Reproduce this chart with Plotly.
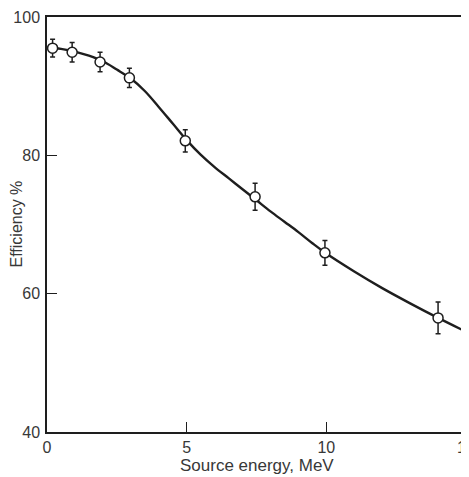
import plotly.graph_objects as go

# Measured points
energy = [0.2, 0.9, 1.9, 2.95, 4.95, 7.45, 9.95, 14.0]
efficiency = [95.5, 94.9, 93.5, 91.2, 82.1, 74.0, 65.9, 56.5]
err = [1.3, 1.4, 1.4, 1.4, 1.6, 1.95, 1.8, 2.3]

# Fitted curve
curve_x = [0, 0.5, 1, 1.5, 2, 2.5, 3, 3.5, 4, 4.5, 5, 5.5, 6, 6.5, 7, 7.5, 8,
           8.5, 9, 9.5, 10, 11, 12, 13, 14, 15]
curve_y = [95.6, 95.4, 95.0, 94.4, 93.6, 92.4, 91.1, 89.3, 87.0, 84.6, 82.2,
           80.1, 78.3, 76.7, 75.1, 73.5, 71.9, 70.4, 68.9, 67.3, 65.8, 63.2,
           60.8, 58.6, 56.5, 54.5]

x_ticks = [0, 5, 10, 15]
y_ticks = [40, 60, 80, 100]

ink = "#1e1e1e"
text_col = "#383838"
font = dict(family="Liberation Sans, Arial, sans-serif", size=16, color=text_col)

fig = go.Figure()
fig.add_trace(go.Scatter(x=curve_x, y=curve_y, mode="lines",
                         line=dict(color=ink, width=2.4, shape="spline", smoothing=1.0),
                         hoverinfo="skip", showlegend=False))
fig.add_trace(go.Scatter(x=energy, y=efficiency, mode="markers",
                         marker=dict(symbol="circle", size=10, color="white",
                                     line=dict(color=ink, width=1.5)),
                         error_y=dict(type="data", array=err, visible=True,
                                      color=ink, thickness=1.5, width=2.5),
                         showlegend=False))

fig.update_layout(
    width=461, height=469,
    margin=dict(l=39, r=3, t=9, b=45),
    paper_bgcolor="white", plot_bgcolor="white",
    font=font,
    annotations=[
        dict(text="Source energy, MeV", xref="paper", yref="paper", x=0.5, y=0,
             xanchor="center", yanchor="middle", yshift=-33, showarrow=False,
             font=dict(size=17, color=text_col)),
        dict(text="Efficiency %", xref="paper", yref="paper", x=0, y=0.5,
             xanchor="center", yanchor="middle", xshift=-31, textangle=-90,
             showarrow=False, font=dict(size=16, color=text_col)),
    ],
)
fig.update_xaxes(range=[0, 15], tickvals=x_ticks, ticktext=[str(v) for v in x_ticks],
                 showgrid=False, zeroline=False, showline=True, linecolor=ink,
                 linewidth=1.5, mirror=True, ticks="inside", ticklen=10,
                 tickcolor=ink, tickwidth=1.2, automargin=False,
                 ticklabelstandoff=0, ticklabeloverflow="allow")
fig.update_yaxes(range=[40, 100], tickvals=y_ticks, ticktext=[str(v) for v in y_ticks],
                 showgrid=False, zeroline=False, showline=True, linecolor=ink,
                 linewidth=1.5, mirror=True, ticks="inside", ticklen=10,
                 tickcolor=ink, tickwidth=1.2, ticklabelstandoff=2, automargin=False,
                 ticklabeloverflow="allow")

fig.write_html("out.html")
